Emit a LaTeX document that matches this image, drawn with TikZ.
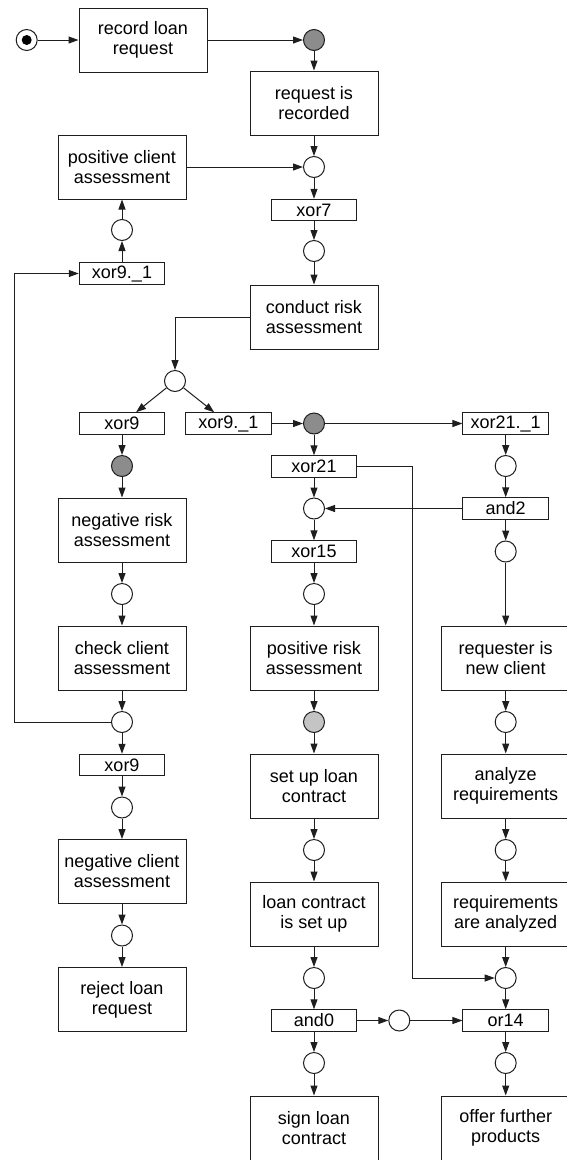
\documentclass[tikz,border=0pt]{standalone}
\usepackage{fontspec}
\setmainfont{Liberation Sans}
\usepackage{tikz}
\usetikzlibrary{arrows.meta}
\definecolor{ink}{HTML}{1E1E1E}
\definecolor{tokdark}{HTML}{8C8C8C}
\definecolor{toklight}{HTML}{C4C4C4}
\tikzset{
  fn/.style={draw=ink, line width=1pt, fill=white, minimum width=128pt, minimum height=64pt, inner sep=0pt, align=center, font=\fontsize{18}{20}\selectfont},
  gate/.style={draw=ink, line width=1pt, fill=white, minimum width=85.5pt, minimum height=21.5pt, inner sep=0pt, font=\fontsize{18}{20}\selectfont},
  place/.style={circle, draw=ink, line width=1pt, fill=white, minimum size=21pt, inner sep=0pt},
  hot/.style={place, fill=tokdark},
  warm/.style={place, fill=toklight},
  tok/.style={circle, fill=black, inner sep=0pt, minimum size=10pt},
  flow/.style={draw=ink, line width=1pt, -{Triangle[length=10pt,width=7pt]}},
}

\begin{document}
\begin{tikzpicture}[x=1pt,y=-1pt]
  \useasboundingbox (0,0) rectangle (567,1160);
  \node[place] (start) at (26.7,40) {};
  \node[tok] (startTok) at (start) {};
  \node[fn] (record) at (143,40) {record loan\\request};
  \node[hot] (g1) at (314,40) {};
  \node[fn] (recorded) at (314,103) {request is\\recorded};
  \node[place] (p1) at (314,167) {};
  \node[fn] (posClient) at (122,167) {positive client\\assessment};
  \node[gate] (xor7) at (314,210) {xor7};
  \node[place] (p2) at (314,251) {};
  \node[place] (p3) at (122,230) {};
  \node[gate] (xorTop) at (122,273.5) {xor9.\_1};
  \node[fn] (conduct) at (314,317) {conduct risk\\assessment};
  \node[place] (split) at (175,381) {};
  \node[gate] (xor9a) at (122,423.5) {xor9};
  \node[gate] (xor9b) at (228.3,423.5) {xor9.\_1};
  \node[hot] (g2) at (314,423.5) {};
  \node[gate] (xor21b) at (505.7,423.5) {xor21.\_1};
  \node[hot] (g3) at (122,466) {};
  \node[gate] (xor21) at (314,466.5) {xor21};
  \node[place] (p4) at (505.7,466) {};
  \node[place] (p5) at (314,508.5) {};
  \node[gate] (and2) at (505.7,508.5) {and2};
  \node[fn] (negRisk) at (122,530) {negative risk\\assessment};
  \node[gate] (xor15) at (314,551.5) {xor15};
  \node[place] (p6) at (505.7,551.5) {};
  \node[place] (p7) at (122,594) {};
  \node[place] (p8) at (314,594) {};
  \node[fn] (check) at (122,658) {check client\\assessment};
  \node[fn] (posRisk) at (314,658) {positive risk\\assessment};
  \node[fn] (newClient) at (505.7,658) {requester is\\new client};
  \node[place] (p9) at (122,722) {};
  \node[warm] (g4) at (314,722) {};
  \node[place] (p10) at (505.7,722) {};
  \node[gate] (xor9c) at (122,765) {xor9};
  \node[fn] (setUp) at (314,786) {set up loan\\contract};
  \node[fn] (analyze) at (505.7,786) {analyze\\requirements};
  \node[place] (p11) at (122,807.5) {};
  \node[place] (p12) at (314,850) {};
  \node[place] (p13) at (505.7,850) {};
  \node[fn] (negClient) at (122,871.5) {negative client\\assessment};
  \node[fn] (isSet) at (314,914) {loan contract\\is set up};
  \node[fn] (analyzed) at (505.7,914) {requirements\\are analyzed};
  \node[place] (p14) at (122,935.5) {};
  \node[place] (p15) at (314,978) {};
  \node[place] (p16) at (505.7,978) {};
  \node[fn] (reject) at (122,999.5) {reject loan\\request};
  \node[gate] (and0) at (314,1020.5) {and0};
  \node[place] (p17) at (399.3,1020.5) {};
  \node[gate] (or14) at (505.7,1020.5) {or14};
  \node[place] (p18) at (314,1063) {};
  \node[place] (p19) at (505.7,1063) {};
  \node[fn] (sign) at (314,1128) {sign loan\\contract};
  \node[fn] (offer) at (505.7,1128) {offer further\\products};
  \coordinate (loopC) at (14.7,722);
  \coordinate (bendC) at (412.7,978);
  % top row and middle column
  \draw[flow] (start) -- (record); \draw[flow] (record) -- (g1);
  \draw[flow] (g1) -- (recorded); \draw[flow] (recorded) -- (p1);
  \draw[flow] (posClient) -- (p1); \draw[flow] (p1) -- (xor7);
  \draw[flow] (xor7) -- (p2); \draw[flow] (p2) -- (conduct);
  \draw[flow] (conduct.west) -| (split);
  \draw[flow] (split) -- (xor9a); \draw[flow] (split) -- (xor9b);
  \draw[flow] (xor9b) -- (g2); \draw[flow] (g2) -- (xor21b);
  \draw[flow] (g2) -- (xor21); \draw[flow] (xor21) -- (p5);
  \draw[flow] (and2) -- (p5); \draw[flow] (p5) -- (xor15);
  \draw[flow] (xor15) -- (p8); \draw[flow] (p8) -- (posRisk);
  \draw[flow] (posRisk) -- (g4); \draw[flow] (g4) -- (setUp);
  \draw[flow] (setUp) -- (p12); \draw[flow] (p12) -- (isSet);
  \draw[flow] (isSet) -- (p15); \draw[flow] (p15) -- (and0);
  \draw[flow] (and0) -- (p18); \draw[flow] (p18) -- (sign);
  \draw[flow] (and0) -- (p17); \draw[flow] (p17) -- (or14);
  \draw[flow] (xor21.east) -| (bendC) -- (p16);
  % left column
  \draw[flow] (xor9a) -- (g3); \draw[flow] (g3) -- (negRisk);
  \draw[flow] (negRisk) -- (p7); \draw[flow] (p7) -- (check);
  \draw[flow] (check) -- (p9); \draw[flow] (p9) -- (xor9c);
  \draw[flow] (xor9c) -- (p11); \draw[flow] (p11) -- (negClient);
  \draw[flow] (negClient) -- (p14); \draw[flow] (p14) -- (reject);
  \draw[flow] (p9.west) -- (loopC) |- (xorTop.west);
  \draw[flow] (xorTop) -- (p3); \draw[flow] (p3) -- (posClient);
  % right column
  \draw[flow] (xor21b) -- (p4); \draw[flow] (p4) -- (and2);
  \draw[flow] (and2) -- (p6); \draw[flow] (p6) -- (newClient);
  \draw[flow] (newClient) -- (p10); \draw[flow] (p10) -- (analyze);
  \draw[flow] (analyze) -- (p13); \draw[flow] (p13) -- (analyzed);
  \draw[flow] (analyzed) -- (p16); \draw[flow] (p16) -- (or14);
  \draw[flow] (or14) -- (p19); \draw[flow] (p19) -- (offer);
\end{tikzpicture}
\end{document}
